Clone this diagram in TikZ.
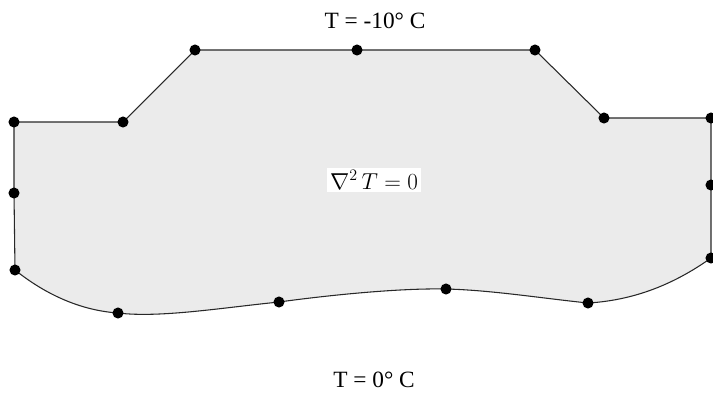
\documentclass[tikz,border=0pt]{standalone}
\usepackage{fontspec}
\setmainfont{Liberation Serif}
\definecolor{edgec}{RGB}{40,40,40}
\definecolor{fillc}{RGB}{235,235,235}
\begin{document}
\begin{tikzpicture}[x=0.75pt,y=-0.75pt,
  outline/.style={draw=edgec, line width=0.8pt},
  region/.style={fill=fillc},
  dot/.style={circle, fill=black, inner sep=0pt, minimum size=8.3pt},
  txt/.style={font=\fontsize{17.5}{20}\selectfont, inner sep=0pt, anchor=base}]
\useasboundingbox (0,0) rectangle (713,394);
% boundary points
\coordinate (p1) at (14,122);
\coordinate (p2) at (123,122);
\coordinate (p3) at (195,50);
\coordinate (p4) at (357,50);
\coordinate (p5) at (535,50);
\coordinate (p6) at (604,118);
\coordinate (p7) at (711,118);
\coordinate (p8) at (711,185);
\coordinate (p9) at (711,258);
\coordinate (p10) at (588,303);
\coordinate (p11) at (446,289);
\coordinate (p12) at (279,302);
\coordinate (p13) at (118,313);
\coordinate (p14) at (15,270);
\coordinate (p15) at (14,193);
% region
\path[region, outline] (p1) -- (p2) -- (p3) -- (p4) -- (p5) -- (p6) -- (p7) -- (p8) -- (p9)
  .. controls (680,280) and (640,300) .. (p10)
  .. controls (540,298) and (490,290) .. (p11)
  .. controls (400,288) and (330,295) .. (p12)
  .. controls (220,308) and (160,318) .. (p13)
  .. controls (75,310) and (40,290) .. (p14)
  -- (p15) -- cycle;
% dots
\foreach \i in {1,...,15} \node[dot] (d\i) at (p\i) {};
% texts
\node[txt] (top) at (375,28) {T = -10° C};
\node[txt] (bot) at (374,387) {T = 0° C};
\node[fill=white, inner sep=2pt, font=\fontsize{17}{20}\selectfont] (eq) at (374,180) {$\nabla^2\,T = 0$};
\end{tikzpicture}
\end{document}
